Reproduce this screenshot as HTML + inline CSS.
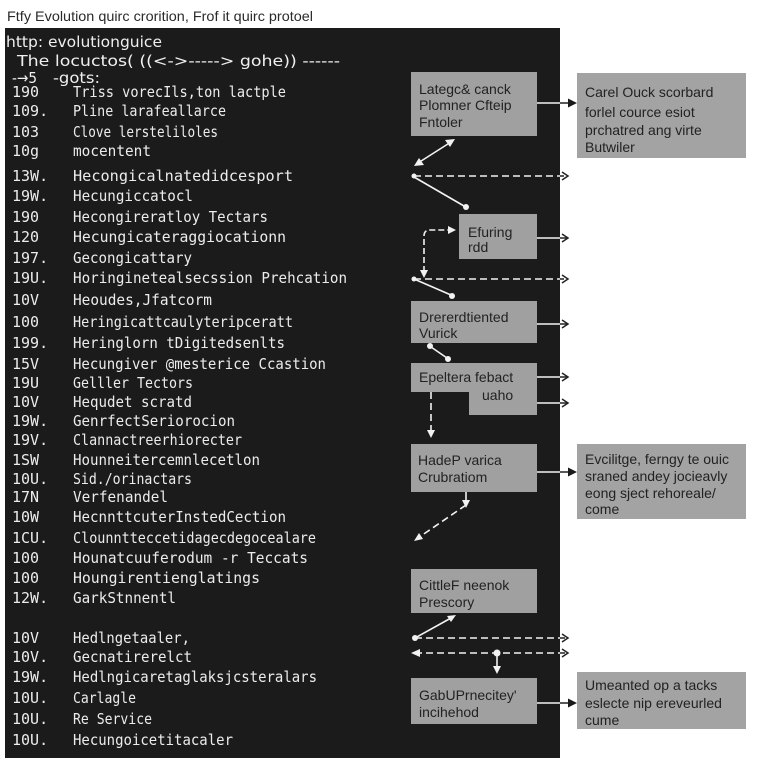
<!DOCTYPE html>
<html><head><meta charset="utf-8"><style>
html,body{margin:0;padding:0;background:#fff;}
svg{display:block;}
.t{font-family:"DejaVu Sans Mono","Liberation Mono",monospace;font-size:15px;fill:#ececec;}
.h{font-family:"DejaVu Sans","Liberation Sans",sans-serif;font-size:15px;fill:#f0f0f0;}
.b{font-family:"Liberation Sans","DejaVu Sans",sans-serif;font-size:14px;fill:#222;}
</style></head><body>
<svg width="768" height="768" viewBox="0 0 768 768" xmlns="http://www.w3.org/2000/svg">
<defs><clipPath id="pc"><rect x="5" y="28" width="555" height="730"/></clipPath></defs>
<rect width="768" height="768" fill="#fff"/>
<text x="7" y="21" class="b" style="fill:#2a2a2a" textLength="306" lengthAdjust="spacingAndGlyphs">Ftfy Evolution quirc crorition, Frof it quirc protoel</text>
<rect x="5" y="28" width="555" height="730" fill="#1b1b1b"/>

<!-- header -->
<text x="6" y="47" class="h" textLength="156" lengthAdjust="spacingAndGlyphs">http: evolutionguice</text>
<text x="17" y="66" class="h" textLength="323" lengthAdjust="spacingAndGlyphs">The locuctos( ((&lt;-&gt;-----&gt; gohe)) ------</text>
<text x="12" y="83" class="h" textLength="25" lengthAdjust="spacingAndGlyphs">-→5</text>
<text x="53" y="83" class="h" textLength="47" lengthAdjust="spacingAndGlyphs">-gots:</text>

<g class="t">
<text x="12" y="97">190</text><text x="73" y="97" textLength="213" lengthAdjust="spacingAndGlyphs">Triss vorecIls,ton lactple</text>
<text x="12" y="116">109.</text><text x="73" y="116" textLength="153" lengthAdjust="spacingAndGlyphs">Pline larafeallarce</text>
<text x="12" y="137">103</text><text x="73" y="137" textLength="145" lengthAdjust="spacingAndGlyphs">Clove lersteliloles</text>
<text x="12" y="156">10g</text><text x="73" y="156" textLength="78" lengthAdjust="spacingAndGlyphs">mocentent</text>
<text x="12" y="181">13W.</text><text x="73" y="181" textLength="220" lengthAdjust="spacingAndGlyphs">Hecongicalnatedidcesport</text>
<text x="12" y="201">19W.</text><text x="73" y="201" textLength="120" lengthAdjust="spacingAndGlyphs">Hecungiccatocl</text>
<text x="12" y="222">190</text><text x="73" y="222" textLength="195" lengthAdjust="spacingAndGlyphs">Hecongireratloy Tectars</text>
<text x="12" y="242">120</text><text x="73" y="242" textLength="213" lengthAdjust="spacingAndGlyphs">Hecungicateraggiocationn</text>
<text x="12" y="263">197.</text><text x="73" y="263" textLength="119" lengthAdjust="spacingAndGlyphs">Gecongicattary</text>
<text x="12" y="283">19U.</text><text x="73" y="283" textLength="274" lengthAdjust="spacingAndGlyphs">Horinginetealsecssion Prehcation</text>
<text x="12" y="305">10V</text><text x="73" y="305" textLength="139" lengthAdjust="spacingAndGlyphs">Heoudes,Jfatcorm</text>
<text x="12" y="327">100</text><text x="73" y="327" textLength="220" lengthAdjust="spacingAndGlyphs">Heringicattcaulyteripceratt</text>
<text x="12" y="348">199.</text><text x="73" y="348" textLength="212" lengthAdjust="spacingAndGlyphs">Heringlorn tDigitedsenlts</text>
<text x="12" y="369">15V</text><text x="73" y="369" textLength="253" lengthAdjust="spacingAndGlyphs">Hecungiver @mesterice Ccastion</text>
<text x="12" y="388">19U</text><text x="73" y="388" textLength="120" lengthAdjust="spacingAndGlyphs">Gelller Tectors</text>
<text x="12" y="407">10V</text><text x="73" y="407" textLength="119" lengthAdjust="spacingAndGlyphs">Hequdet scratd</text>
<text x="12" y="426">19W.</text><text x="73" y="426" textLength="162" lengthAdjust="spacingAndGlyphs">GenrfectSeriorocion</text>
<text x="12" y="445">19V.</text><text x="73" y="445" textLength="169" lengthAdjust="spacingAndGlyphs">Clannactreerhiorecter</text>
<text x="12" y="465">1SW</text><text x="73" y="465" textLength="187" lengthAdjust="spacingAndGlyphs">Hounneitercemnlecetlon</text>
<text x="12" y="484">10U.</text><text x="73" y="484" textLength="119" lengthAdjust="spacingAndGlyphs">Sid./orinactars</text>
<text x="12" y="502">17N</text><text x="73" y="502" textLength="95" lengthAdjust="spacingAndGlyphs">Verfenandel</text>
<text x="12" y="522">10W</text><text x="73" y="522" textLength="213" lengthAdjust="spacingAndGlyphs">HecnnttcuterInstedCection</text>
<text x="12" y="543">1CU.</text><text x="73" y="543" textLength="243" lengthAdjust="spacingAndGlyphs">Clounntteccetidagecdegocealare</text>
<text x="12" y="563">100</text><text x="73" y="563" textLength="235" lengthAdjust="spacingAndGlyphs">Hounatcuuferodum -r Teccats</text>
<text x="12" y="583">100</text><text x="73" y="583" textLength="187" lengthAdjust="spacingAndGlyphs">Houngirentienglatings</text>
<text x="12" y="603">12W.</text><text x="73" y="603" textLength="103" lengthAdjust="spacingAndGlyphs">GarkStnnentl</text>
<text x="12" y="643">10V</text><text x="73" y="643" textLength="117" lengthAdjust="spacingAndGlyphs">Hedlngetaaler,</text>
<text x="12" y="662">10V.</text><text x="73" y="662" textLength="119" lengthAdjust="spacingAndGlyphs">Gecnatirerelct</text>
<text x="12" y="682">19W.</text><text x="73" y="682" textLength="244" lengthAdjust="spacingAndGlyphs">Hedlngicaretaglaksjcsteralars</text>
<text x="12" y="703">10U.</text><text x="73" y="703" textLength="63" lengthAdjust="spacingAndGlyphs">Carlagle</text>
<text x="12" y="724">10U.</text><text x="73" y="724" textLength="79" lengthAdjust="spacingAndGlyphs">Re Service</text>
<text x="12" y="745">10U.</text><text x="73" y="745" textLength="160" lengthAdjust="spacingAndGlyphs">Hecungoicetitacaler</text>
</g>

<!-- boxes inside panel -->
<g fill="#a0a0a0">
<rect x="411" y="72" width="126" height="64"/>
<rect x="459" y="214" width="78" height="45"/>
<rect x="411" y="301" width="126" height="42"/>
<path d="M411 363 H537 V415 H469 V392 H411 Z"/>
<rect x="411" y="444" width="126" height="48"/>
<rect x="411" y="569" width="126" height="44"/>
<rect x="411" y="678" width="126" height="46"/>
</g>
<!-- boxes outside -->
<g fill="#a3a3a3">
<rect x="577" y="73" width="169" height="85"/>
<rect x="577" y="444" width="169" height="75"/>
<rect x="577" y="672" width="169" height="57"/>
</g>

<g class="b">
<text x="419" y="94">Lategc&amp; canck</text>
<text x="419" y="110">Plomner Cfteip</text>
<text x="419" y="127">Fntoler</text>
<text x="585" y="97">Carel Ouck scorbard</text>
<text x="585" y="117">forlel cource esiot</text>
<text x="585" y="135">prchatred ang virte</text>
<text x="585" y="152">Butwiler</text>
<text x="468" y="237">Efuring</text>
<text x="468" y="252">rdd</text>
<text x="419" y="322">Drererdtiented</text>
<text x="419" y="338">Vurick</text>
<text x="419" y="382">Epeltera febact</text>
<text x="482" y="400">uaho</text>
<text x="418" y="465">HadeP varica</text>
<text x="418" y="482">Crubratiom</text>
<text x="585" y="464">Evcilitge, ferngy te ouic</text>
<text x="585" y="481">sraned andey jocieavly</text>
<text x="585" y="498">eong sject rehoreale/</text>
<text x="585" y="514">come</text>
<text x="419" y="590">CittleF neenok</text>
<text x="419" y="607">Prescory</text>
<text x="419" y="700">GabUPrnecitey'</text>
<text x="419" y="717">incihehod</text>
<text x="585" y="690">Umeanted op a tacks</text>
<text x="585" y="708">eslecte nip ereveurled</text>
<text x="585" y="725">cume</text>
</g>

<!-- connectors: dark pass (visible outside panel) -->
<g stroke="#222" stroke-width="1.5" fill="none">
<path d="M537 103 H571"/>
<path d="M537 472 H571"/>
<path d="M537 703 H571"/>
<path d="M414 176 H567" stroke-dasharray="7 4"/>
<path d="M414 279 H567" stroke-dasharray="7 4"/>
<path d="M415 638 H567" stroke-dasharray="7 4"/>
<path d="M415 653 H567" stroke-dasharray="7 4"/>
<path d="M537 238 H567"/>
<path d="M537 324 H567"/>
<path d="M537 377 H567"/>
<path d="M537 403 H567"/>
<path d="M562 172 L568 176 L562 180"/>
<path d="M562 234 L568 238 L562 242"/>
<path d="M562 275 L568 279 L562 283"/>
<path d="M562 320 L568 324 L562 328"/>
<path d="M562 373 L568 377 L562 381"/>
<path d="M562 399 L568 403 L562 407"/>
<path d="M562 634 L568 638 L562 642"/>
<path d="M562 649 L568 653 L562 657"/>
</g>
<g fill="#1a1a1a">
<path d="M577 103 L568 98.5 L568 107.5 Z"/>
<path d="M577 472 L568 467.5 L568 476.5 Z"/>
<path d="M577 703 L568 698.5 L568 707.5 Z"/>
</g>

<!-- white pass clipped to panel -->
<g clip-path="url(#pc)">
<g stroke="#f2f2f2" stroke-width="1.6" fill="none">
<path d="M537 103 H577"/>
<path d="M537 472 H577"/>
<path d="M537 703 H577"/>
<path d="M414 176 H567" stroke-dasharray="7 4"/>
<path d="M414 279 H567" stroke-dasharray="7 4"/>
<path d="M415 638 H567" stroke-dasharray="7 4"/>
<path d="M415 653 H567" stroke-dasharray="7 4"/>
<path d="M537 238 H567"/>
<path d="M537 324 H567"/>
<path d="M537 377 H567"/>
<path d="M537 403 H567"/>
<path d="M451 142 L418 163"/>
<path d="M414 177 L464 206"/>
<path d="M424 272 V236 Q424 230 430 230 H451" stroke-dasharray="6 3"/>
<path d="M414 279 L451 295"/>
<path d="M431 347 L447 358"/>
<path d="M431 392 V432" stroke-dasharray="7 4"/>
<path d="M466 492 V505"/>
<path d="M466 505 L418 538" stroke-dasharray="7 4"/>
<path d="M415 638 L451 618"/>
<path d="M497 653 V669"/>
</g>
<g fill="#f2f2f2">
<path d="M455 139 L445 140 L450 147 Z"/>
<path d="M414 166 L424 165 L419 158 Z"/>
<circle cx="414" cy="176" r="2.5"/>
<circle cx="466" cy="207" r="3"/>
<path d="M456 230 L448 226 L448 234 Z"/>
<path d="M424 278 L420 270 L428 270 Z"/>
<circle cx="414" cy="279" r="2.5"/>
<circle cx="452" cy="296" r="3"/>
<circle cx="430" cy="346" r="3"/>
<circle cx="448" cy="359" r="3"/>
<path d="M431 438 L427 430 L435 430 Z"/>
<path d="M466 508 L462 500 L470 500 Z"/>
<path d="M414 541 L419 533 L423 539 Z"/>
<path d="M456 615 L447 616 L451 622 Z"/>
<circle cx="415" cy="638" r="3"/>
<path d="M411 653 L420 649 L420 657 Z"/>
<circle cx="497" cy="653" r="3.5"/>
<path d="M497 674 L493 666 L501 666 Z"/>
</g>
</g>
</svg>
</body></html>
